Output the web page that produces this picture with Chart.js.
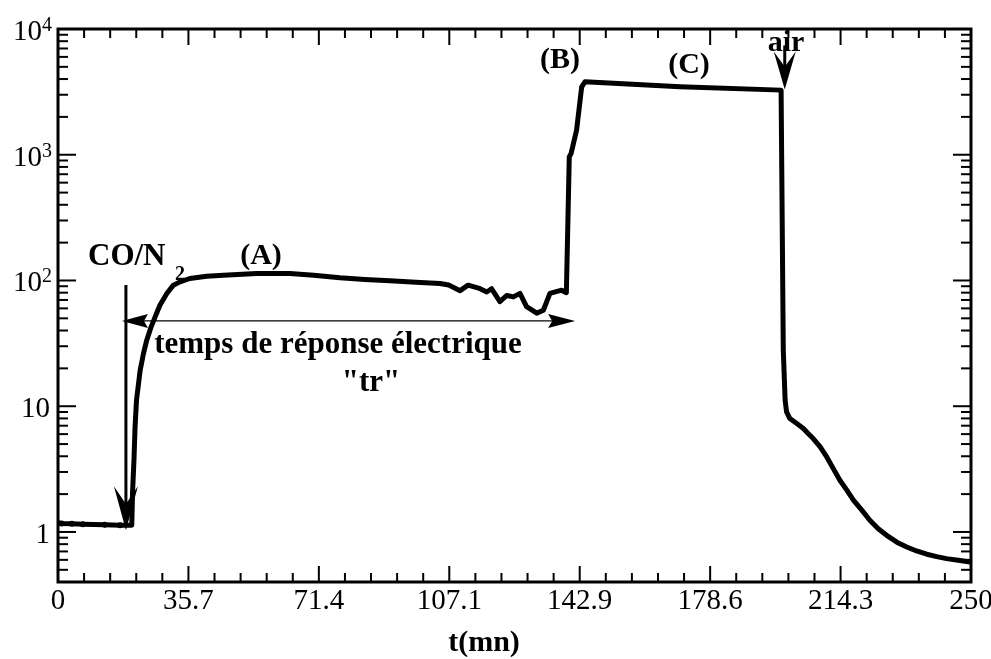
<!DOCTYPE html>
<html>
<head>
<meta charset="utf-8">
<script src="https://cdn.jsdelivr.net/npm/chart.js@4.4.1/dist/chart.umd.min.js"></script>
<style>
  html, body { margin: 0; padding: 0; background: #fff; }
  #wrap { width: 991px; height: 659px; }
</style>
</head>
<body>
<div id="wrap"><canvas id="reponseChart"></canvas></div>
<script>
// temps (mn) et réponse du capteur
var timeMin = [0, 1, 3.8, 6.8, 12.8, 17, 20.2, 20.4, 20.8, 21.1, 21.5, 22.5, 23.4, 24.3, 25.5, 26.6, 27.9, 29.8,
  31.6, 33.4, 36.1, 40.7, 45.3, 54.4, 63.5, 70, 77.2, 84, 90.9, 98, 104.6, 107, 110.1, 112.3, 115.6, 117.4, 118.7,
  121, 122.9, 124.7, 126.5, 128.3, 131.1, 132.9, 134.7, 137.9, 139.2, 140, 140.5, 142, 143.4, 144.3, 170.3, 198,
  198.6, 199.1, 199.5, 200.4, 202.3, 204.1, 205.4, 206.8, 208.7, 210.5, 212.3, 214.1, 216, 217.8, 220.1, 222.3,
  224.6, 226.9, 229.7, 232.4, 235.1, 237.9, 240.6, 243.3, 246.5, 249.7];
var response = [1.18, 1.17, 1.16, 1.15, 1.14, 1.13, 1.13, 2.02, 3.72, 6.84, 11.2, 19.3, 26.2, 33.5, 42.8, 51.3, 63.6, 78.8,
  91.8, 97.5, 103.7, 108, 110, 113.7, 113.5, 110, 105, 102, 99.3, 97, 94.7, 92, 83, 91.8, 86, 81, 86,
  68, 76, 74, 79, 62, 55, 58, 79, 83.7, 80, 962, 1024, 1570, 3470, 3800, 3470, 3265,
  28, 11.2, 9, 7.98, 7.28, 6.65, 6.07, 5.53, 4.75, 3.95, 3.19, 2.58, 2.15, 1.79, 1.49, 1.24,
  1.06, 0.94, 0.83, 0.76, 0.706, 0.665, 0.637, 0.614, 0.595, 0.577];
var xTickValues = [0, 35.714, 71.429, 107.143, 142.857, 178.571, 214.286, 250];
var xTickLabels = ['0', '35.7', '71.4', '107.1', '142.9', '178.6', '214.3', '250'];
var yTickValues = [1, 10, 100, 1000, 10000];
var yTickLabels = [['1', ''], ['10', ''], ['10', '2'], ['10', '3'], ['10', '4']];

var serif = 'Liberation Serif, Times New Roman, serif';

function arrowHead(ctx, x, y, angle, len, half, notch) {
  ctx.save();
  ctx.translate(x, y);
  ctx.rotate(angle);
  ctx.beginPath();
  ctx.moveTo(0, 0);
  ctx.lineTo(-len, -half);
  ctx.lineTo(-len * notch, 0);
  ctx.lineTo(-len, half);
  ctx.closePath();
  ctx.fill();
  ctx.restore();
}

var frameTicks = {
  id: 'frameTicks',
  afterDraw: function(chart) {
    var ctx = chart.ctx, a = chart.chartArea;
    var xs = chart.scales.x, ys = chart.scales.y;
    function P(t, v) { return { x: xs.getPixelForValue(t), y: ys.getPixelForValue(v) }; }
    function seg(x1, y1, x2, y2) { ctx.beginPath(); ctx.moveTo(x1, y1); ctx.lineTo(x2, y2); ctx.stroke(); }
    ctx.save();
    ctx.strokeStyle = '#000';
    ctx.fillStyle = '#000';

    // graduations vers l'intérieur, sur les quatre côtés
    ctx.lineWidth = 2;
    for (var i = 0; i <= 35; i++) {
      var px = xs.getPixelForValue(i * 250 / 35);
      var len = i % 5 === 0 ? 16 : 9;
      seg(px, a.bottom, px, a.bottom - len);
      seg(px, a.top, px, a.top + len);
    }
    for (var k = -1; k <= 4; k++) {
      for (var d = 1; d <= 9; d++) {
        var v = d * Math.pow(10, k);
        if (v <= 0.4 || v > 10000) continue;
        var py = ys.getPixelForValue(v);
        var l2 = d === 1 ? 18 : 10;
        seg(a.left, py, a.left + l2, py);
        seg(a.right, py, a.right - l2, py);
      }
    }
    ctx.lineWidth = 3;
    ctx.strokeRect(a.left, a.top, a.right - a.left, a.bottom - a.top);

    // étiquettes de l'axe y avec exposants
    ctx.textAlign = 'right';
    ctx.textBaseline = 'alphabetic';
    yTickValues.forEach(function(v, j) {
      var py = ys.getPixelForValue(v);
      var base = yTickLabels[j][0], sup = yTickLabels[j][1];
      if (sup) {
        ctx.font = '20px ' + serif;
        ctx.fillText(sup, 52, py + 2);
        ctx.font = '29px ' + serif;
        ctx.fillText(base, 42, py + 11);
      } else {
        ctx.font = '29px ' + serif;
        ctx.fillText(base, 50, py + 11);
      }
    });

    // titre de l'axe x
    ctx.textAlign = 'center';
    ctx.font = 'bold 30px ' + serif;
    ctx.fillText('t(mn)', 484, 651);

    // flèche CO/N2
    var p1 = P(18.6, 92), p2 = P(18.6, 1.03);
    ctx.lineWidth = 3;
    seg(p1.x, p1.y, p2.x, p2.y - 20);
    arrowHead(ctx, p2.x, p2.y, Math.PI / 2, 44, 12, 0.6);

    // flèche "tr"
    var h1 = P(17.5, 47.7), h2 = P(141.6, 47.7);
    ctx.lineWidth = 1.2;
    seg(h1.x + 10, h1.y, h2.x - 10, h2.y);
    arrowHead(ctx, h1.x, h1.y, Math.PI, 26, 7, 0.85);
    arrowHead(ctx, h2.x, h2.y, 0, 27, 7, 0.85);

    // flèche air
    var q1 = P(199, 7400), q2 = P(199, 3300);
    ctx.lineWidth = 3;
    seg(q1.x, q1.y, q2.x, q2.y - 15);
    arrowHead(ctx, q2.x, q2.y, Math.PI / 2, 38, 11, 0.6);

    // textes
    ctx.font = 'bold 31px ' + serif;
    ctx.textAlign = 'left';
    ctx.fillText('CO/N', 88, 265);
    ctx.font = 'bold 20px ' + serif;
    ctx.fillText('2', 175, 280);
    ctx.textAlign = 'center';
    ctx.font = 'bold 30px ' + serif;
    ctx.fillText('(A)', 261, 264);
    ctx.fillText('(B)', 560, 68);
    ctx.fillText('(C)', 689, 73);
    ctx.fillText('air', 786, 51);
    ctx.font = 'bold 31px ' + serif;
    ctx.fillText('temps de réponse électrique', 338, 353);
    ctx.fillText('"tr"', 371, 391);
    ctx.restore();
  }
};

var ctx = document.getElementById('reponseChart').getContext('2d');
var reponseChart = new Chart(ctx, {
  type: 'line',
  data: {
    datasets: [{
      data: timeMin.map(function(t, i) { return { x: t, y: response[i] }; }),
      borderColor: '#000',
      backgroundColor: '#000',
      borderWidth: 5,
      borderJoinStyle: 'round',
      borderCapStyle: 'round',
      pointRadius: function(c) { return c.dataIndex < 6 ? 3 : 0; },
      pointBorderWidth: 0,
      tension: 0,
      fill: false
    }]
  },
  options: {
    responsive: true,
    maintainAspectRatio: false,
    animation: false,
    layout: { padding: { top: 29, right: 20, left: 0, bottom: 0 } },
    plugins: { legend: { display: false }, tooltip: { enabled: false } },
    scales: {
      x: {
        type: 'linear',
        min: 0,
        max: 250,
        grid: { display: false, drawTicks: false },
        border: { display: false },
        afterBuildTicks: function(s) { s.ticks = xTickValues.map(function(v) { return { value: v }; }); },
        afterFit: function(s) { s.height = 77; s.paddingLeft = 0; s.paddingRight = 0; },
        ticks: {
          color: '#000',
          padding: 2,
          maxRotation: 0,
          autoSkip: false,
          font: { family: serif, size: 29 },
          callback: function(v, i) { return xTickLabels[i]; }
        }
      },
      y: {
        type: 'logarithmic',
        min: 0.4,
        max: 10000,
        grid: { display: false, drawTicks: false },
        border: { display: false },
        ticks: { display: false },
        afterFit: function(s) { s.width = 58; s.paddingTop = 0; s.paddingBottom = 0; }
      }
    }
  },
  plugins: [frameTicks]
});
</script>
</body>
</html>
